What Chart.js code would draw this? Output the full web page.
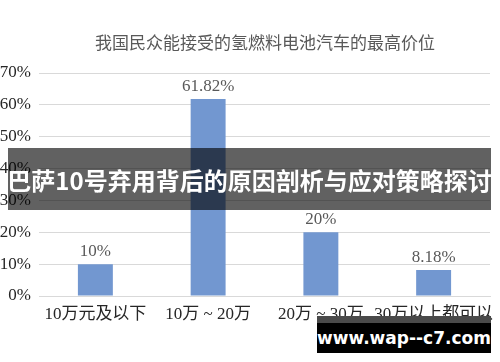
<!DOCTYPE html>
<html>
<head>
<meta charset="utf-8">
<script src="https://cdn.jsdelivr.net/npm/chart.js@4/dist/chart.umd.min.js"></script>
<style>
  html, body { margin: 0; padding: 0; background: #fff; }
  #wrap { position: relative; width: 500px; height: 362px; overflow: hidden; }
  #banner {
    position: absolute; left: 8px; top: 148px; width: 483px; height: 62px;
    background: rgba(0, 0, 0, 0.62); color: #fff;
    font: bold 24px "Noto Sans CJK SC", sans-serif;
    display: flex; align-items: center; justify-content: center; white-space: nowrap;
  }
  #mark {
    position: absolute; left: 317px; top: 316px; width: 174px; height: 37px;
    background: #000; border-top: 7px solid #4a4a4a; box-sizing: border-box;
    color: #fff; font: bold 17px "DejaVu Sans", sans-serif;
    display: flex; align-items: center; justify-content: center;
  }
</style>
</head>
<body>
<div id="wrap">
  <canvas id="chart" width="500" height="362"></canvas>
  <div id="banner">巴萨10号弃用背后的原因剖析与应对策略探讨</div>
  <div id="mark">www.wap--c7.com</div>
</div>
<script>
// 数据
const categories = ['10万元及以下', '10万 ~ 20万', '20万 ~ 30万', '30万以上都可以'];
const values = [10, 61.82, 20, 8.18];
const valueLabels = ['10%', '61.82%', '20%', '8.18%'];
const chartTitle = '我国民众能接受的氢燃料电池汽车的最高价位';

const serif = '"Liberation Serif", "Noto Sans CJK SC", serif';

// 标题与数据标签
const labelPlugin = {
    id: 'labelPlugin',
    afterDraw(chart) {
        const ctx = chart.ctx;
        ctx.save();
        ctx.fillStyle = '#595959';
        ctx.textAlign = 'center';
        ctx.textBaseline = 'middle';
        ctx.font = '17px ' + serif;
        ctx.fillText(chartTitle, 265, 45);
        const meta = chart.getDatasetMeta(0);
        ctx.textBaseline = 'bottom';
        meta.data.forEach(function(bar, i) {
            ctx.fillText(valueLabels[i], bar.x, bar.y - 4);
        });
        ctx.restore();
    }
};

new Chart(document.getElementById('chart').getContext('2d'), {
    type: 'bar',
    data: {
        labels: categories,
        datasets: [{
            data: values,
            backgroundColor: '#7297D0',
            categoryPercentage: 1,
            barPercentage: 0.31
        }]
    },
    options: {
        responsive: false,
        animation: false,
        layout: { padding: { top: 73, right: 10, left: 0, bottom: 0 } },
        plugins: {
            legend: { display: false },
            tooltip: { enabled: false },
            title: { display: false }
        },
        scales: {
            x: {
                grid: { display: false },
                border: { color: '#d9d9d9', width: 1 },
                ticks: { color: '#262626', font: { family: serif, size: 17 }, padding: 0, maxRotation: 0, autoSkip: false },
                afterFit(scale) { scale.height = 66; }
            },
            y: {
                min: 0,
                max: 70,
                ticks: {
                    stepSize: 10,
                    color: '#262626',
                    padding: 8,
                    font: { family: serif, size: 17 },
                    callback: function(v) { return v + '%'; }
                },
                grid: { color: '#d9d9d9', drawTicks: false },
                border: { display: false },
                afterFit(scale) { scale.width = 39; }
            }
        }
    },
    plugins: [labelPlugin]
});
</script>
</body>
</html>
